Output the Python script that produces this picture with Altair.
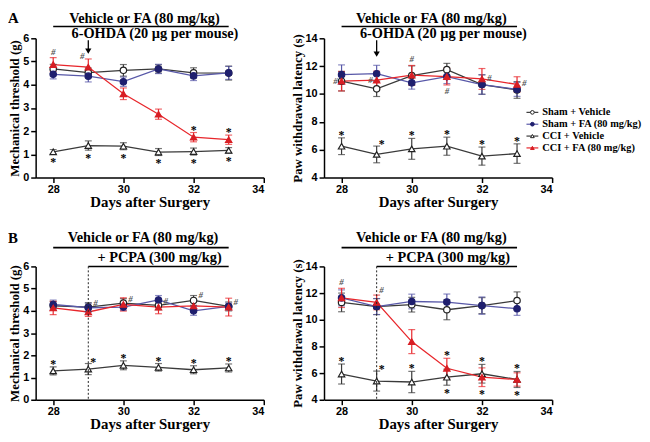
import altair as alt
import pandas as pd

days = [28, 29, 30, 31, 32, 33]
series = ["Sham + Vehicle", "Sham + FA (80 mg/kg)", "CCI + Vehicle", "CCI + FA (80 mg/kg)"]

# Panel A (6-OHDA), mechanical threshold (g)
a_mech_sv = [4.68, 4.52, 4.62, 4.68, 4.51, 4.50]
a_mech_sv_err = [0.2, 0.2, 0.25, 0.18, 0.22, 0.3]
a_mech_sf = [4.45, 4.37, 4.13, 4.68, 4.38, 4.51]
a_mech_sf_err = [0.2, 0.25, 0.2, 0.2, 0.2, 0.28]
a_mech_cv = [1.11, 1.38, 1.35, 1.10, 1.12, 1.17]
a_mech_cv_err = [0.1, 0.2, 0.15, 0.15, 0.15, 0.12]
a_mech_cf = [4.87, 4.76, 3.61, 2.73, 1.74, 1.63]
a_mech_cf_err = [0.3, 0.35, 0.25, 0.22, 0.2, 0.2]

# Panel A (6-OHDA), paw withdrawal latency (s)
a_paw_sv = [10.92, 10.37, 11.32, 11.75, 10.68, 10.29]
a_paw_sv_err = [0.7, 0.55, 0.7, 0.45, 0.7, 0.6]
a_paw_sf = [11.39, 11.46, 10.80, 11.25, 10.68, 10.33]
a_paw_sf_err = [0.7, 0.6, 0.45, 0.5, 0.7, 0.5]
a_paw_cv = [6.25, 5.66, 6.06, 6.25, 5.54, 5.72]
a_paw_cv_err = [0.6, 0.6, 0.75, 0.65, 0.65, 0.7]
a_paw_cf = [10.92, 10.99, 11.35, 11.25, 11.08, 10.69]
a_paw_cf_err = [0.7, 0.65, 0.7, 0.6, 0.75, 0.55]

# Panel B (PCPA), mechanical threshold (g)
b_mech_sv = [4.23, 4.17, 4.35, 4.25, 4.47, 4.20]
b_mech_sv_err = [0.2, 0.2, 0.2, 0.2, 0.22, 0.2]
b_mech_sf = [4.29, 4.14, 4.17, 4.49, 4.00, 4.20]
b_mech_sf_err = [0.2, 0.2, 0.15, 0.2, 0.2, 0.15]
b_mech_cv = [1.30, 1.38, 1.55, 1.46, 1.35, 1.43]
b_mech_cv_err = [0.18, 0.25, 0.2, 0.17, 0.18, 0.18]
b_mech_cf = [4.13, 3.95, 4.29, 4.17, 4.22, 4.17]
b_mech_cf_err = [0.3, 0.2, 0.3, 0.3, 0.25, 0.4]

# Panel B (PCPA), paw withdrawal latency (s)
b_paw_sv = [11.30, 10.99, 11.13, 10.75, 11.06, 11.44]
b_paw_sv_err = [0.7, 0.6, 0.55, 0.75, 0.6, 0.65]
b_paw_sf = [11.64, 10.99, 11.37, 11.33, 11.06, 10.83]
b_paw_sf_err = [0.6, 0.6, 0.55, 0.6, 0.65, 0.5]
b_paw_cv = [5.93, 5.40, 5.33, 5.69, 5.95, 5.52]
b_paw_cv_err = [0.75, 0.75, 0.8, 0.6, 0.7, 0.6]
b_paw_cf = [11.64, 11.30, 8.36, 6.36, 5.69, 5.52]
b_paw_cf_err = [0.72, 0.55, 0.9, 0.75, 0.7, 0.5]

# significance marks: (series index, day, placement, symbol)
a_mech_marks = [(2, d, "below", "*") for d in days] + [
    (3, 32, "above", "*"), (3, 33, "above", "*"),
    (3, 28, "above", "#"), (3, 29, "above_left", "#")]
a_paw_marks = [(2, d, "above", "*") for d in [28, 30, 31, 32, 33]] + [
    (2, 29, "above_right", "*"),
    (3, 28, "left", "#"), (3, 29, "left", "#"), (3, 30, "above", "#"),
    (3, 31, "below", "#"), (3, 32, "right", "#"), (3, 33, "right", "#")]
b_mech_marks = [(2, d, "above", "*") for d in [28, 30, 31, 32, 33]] + [
    (2, 29, "above_right", "*")] + [(0, d, "right_hi", "#") for d in [29, 30, 31, 32, 33]]
b_paw_marks = [(2, 28, "above", "*"), (2, 29, "above_right", "*"), (2, 30, "above", "*"),
               (3, 31, "above", "*"), (2, 31, "below", "*"),
               (2, 32, "above", "*"), (3, 32, "below", "*"),
               (2, 33, "above", "*"), (2, 33, "below", "*"),
               (3, 28, "above", "#"), (3, 29, "above_right", "#")]

line_colors = ["#3a3a3a", "#5858a8", "#3a3a3a", "#e8262b"]
err_colors = ["#2a2a2a", "#3c3c9c", "#2a2a2a", "#e8262b"]
stroke_colors = ["#222222", "#1f1f6e", "#222222", "#d81e24"]
fill_colors = ["#ffffff", "#1f1f6e", "#ffffff", "#d81e24"]
shapes = ["circle", "circle", "triangle-up", "triangle-up"]

SERIF = "Liberation Serif"
SANS = "Liberation Sans"


def panel_df(vals, errs):
    rows = []
    for s, v, e in zip(series, vals, errs):
        for d, vv, ee in zip(days, v, e):
            rows.append(dict(series=s, day=d, value=vv, lo=vv - ee, hi=vv + ee))
    return pd.DataFrame(rows)


PLACE = {
    "*": {
        "above": dict(field="hi", dx=0, dy=1, align="center"),
        "below": dict(field="lo", dx=0, dy=12, align="center"),
        "above_right": dict(field="hi", dx=5, dy=2, align="center"),
    },
    "#": {
        "above": dict(field="hi", dx=0, dy=-3, align="center"),
        "below": dict(field="lo", dx=0, dy=9, align="center"),
        "above_left": dict(field="hi", dx=-4, dy=0, align="right"),
        "above_right": dict(field="hi", dx=5, dy=-2, align="center"),
        "left": dict(field="value", dx=-4, dy=3, align="right"),
        "right": dict(field="value", dx=5, dy=2, align="left"),
        "right_hi": dict(field="hi", dx=5, dy=3, align="left"),
    },
}

XS = alt.Scale(domain=[27.5, 34], nice=False, zero=False)
XAXIS = alt.Axis(values=[28, 30, 32, 34], title="Days after Surgery", format="d")
HFS = 14.5


def make_panel(df, marks, ydom, yvals, ytitle, height, headers, hlines,
               arrow=None, dashed_day=None, label=None, legend=False):
    ys = alt.Scale(domain=ydom, nice=False, zero=False)
    yaxis = alt.Axis(values=yvals, title=ytitle, format="d")

    def X(f="day:Q"):
        return alt.X(f, scale=XS, axis=XAXIS, title="Days after Surgery")

    def Y(f):
        return alt.Y(f, scale=ys, axis=yaxis, title=ytitle)

    base = alt.Chart(df)
    lines = base.mark_line(strokeWidth=1.3).encode(
        x=X(), y=Y("value:Q"),
        color=alt.Color("series:N", scale=alt.Scale(domain=series, range=line_colors), legend=None),
    )
    errs = base.mark_errorbar(ticks={"size": 7}, thickness=1.2).encode(
        x=X(), y=Y("lo:Q"), y2="hi:Q",
        color=alt.Color("series:N", scale=alt.Scale(domain=series, range=err_colors), legend=None),
    )
    pts = base.mark_point(size=42, filled=True, strokeWidth=1.2, opacity=1).encode(
        x=X(), y=Y("value:Q"),
        shape=alt.Shape("series:N", scale=alt.Scale(domain=series, range=shapes), legend=None),
        fill=alt.Fill("series:N", scale=alt.Scale(domain=series, range=fill_colors), legend=None),
        stroke=alt.Stroke("series:N", scale=alt.Scale(domain=series, range=stroke_colors), legend=None),
    )
    layers = [lines, errs, pts]

    # significance marks
    for sym, places in PLACE.items():
        for pname, p in places.items():
            rows = []
            for si, d, pl, s in marks:
                if s == sym and pl == pname:
                    r = df[(df.series == series[si]) & (df.day == d)].iloc[0]
                    rows.append(dict(day=d, yy=r[p["field"]], t=sym))
            if not rows:
                continue
            fs = 12 if sym == "*" else 9
            layers.append(
                alt.Chart(pd.DataFrame(rows)).mark_text(
                    font=SERIF, fontWeight="bold", fontSize=fs,
                    color="#000000" if sym == "*" else "#555555",
                    fontStyle="normal" if sym == "*" else "italic",
                    align=p["align"], baseline="alphabetic", dx=p["dx"], dy=p["dy"],
                ).encode(x=X(), y=Y("yy:Q"), text="t:N")
            )

    # header texts and bars
    for dc, txt, ypix, bl in headers:
        layers.append(
            alt.Chart(pd.DataFrame({"day": [dc], "t": [txt]})).mark_text(
                font=SERIF, fontWeight="bold", fontSize=HFS, baseline=bl, color="black"
            ).encode(x=X(), y=alt.value(ypix), text="t:N")
        )
    for d1, d2, ypix in hlines:
        layers.append(
            alt.Chart(pd.DataFrame({"day": [d1], "day_end": [d2]})).mark_rule(
                color="black", strokeWidth=1.6
            ).encode(x=X(), x2="day_end:Q", y=alt.value(ypix))
        )
    if arrow is not None:
        ad, y1, y2 = arrow
        adf = pd.DataFrame({"day": [ad]})
        layers.append(
            alt.Chart(adf).mark_rule(color="black", strokeWidth=1.3).encode(
                x=X(), y=alt.value(y1), y2=alt.value(y2 - 3))
        )
        layers.append(
            alt.Chart(adf).mark_point(shape="triangle-down", filled=True, color="black",
                                      size=40, opacity=1).encode(
                x=X(), y=alt.value(y2 - 4))
        )
    if dashed_day is not None:
        layers.append(
            alt.Chart(pd.DataFrame({"day": [dashed_day]})).mark_rule(
                color="#222222", strokeWidth=1, strokeDash=[2, 2]
            ).encode(x=X(), y=alt.value(0), y2=alt.value(height))
        )
    if label is not None:
        txt, ypix, bl = label
        layers.append(
            alt.Chart(pd.DataFrame({"t": [txt]})).mark_text(
                font=SERIF, fontWeight="bold", fontSize=15, align="left",
                baseline=bl, color="black"
            ).encode(x=alt.value(-28), y=alt.value(ypix), text="t:N")
        )
    if legend:
        for i, s in enumerate(series):
            ly = 75 + 12 * i
            ldf = pd.DataFrame({"t": [s]})
            layers.append(
                alt.Chart(ldf).mark_rule(color=line_colors[i], strokeWidth=1.2).encode(
                    x=alt.value(205), x2=alt.value(217), y=alt.value(ly))
            )
            layers.append(
                alt.Chart(ldf).mark_point(shape=shapes[i], filled=True, fill=fill_colors[i],
                                          stroke=stroke_colors[i], strokeWidth=1, size=14,
                                          opacity=1).encode(
                    x=alt.value(211), y=alt.value(ly))
            )
            layers.append(
                alt.Chart(ldf).mark_text(font=SERIF, fontWeight="bold", fontSize=10.5,
                                         align="left", baseline="middle", color="black").encode(
                    x=alt.value(221), y=alt.value(ly), text="t:N")
            )
    return alt.layer(*layers).properties(width=231, height=height)


TOP_H = 141
BOT_H = 135

pA1 = make_panel(
    panel_df([a_mech_sv, a_mech_sf, a_mech_cv, a_mech_cf],
             [a_mech_sv_err, a_mech_sf_err, a_mech_cv_err, a_mech_cf_err]),
    a_mech_marks, [0, 6], [0, 1, 2, 3, 4, 5, 6], "Mechanical threshold (g)", TOP_H,
    headers=[(30.6, "Vehicle or FA (80 mg/kg)", -27, "top"),
             (30.9, "6-OHDA (20 µg per mouse)", 0, "alphabetic")],
    hlines=[(28, 33, -12)], arrow=(29, 2, 17), label=("A", -27, "top"),
)
pA2 = make_panel(
    panel_df([a_paw_sv, a_paw_sf, a_paw_cv, a_paw_cf],
             [a_paw_sv_err, a_paw_sf_err, a_paw_cv_err, a_paw_cf_err]),
    a_paw_marks, [4, 14], [4, 6, 8, 10, 12, 14], "Paw withdrawal latency (s)", TOP_H,
    headers=[(30.56, "Vehicle or FA (80 mg/kg)", -27, "top"),
             (30.9, "6-OHDA (20 µg per mouse)", 0, "alphabetic")],
    hlines=[(28, 33, -12)], arrow=(29, 2, 20), legend=True,
)
pB1 = make_panel(
    panel_df([b_mech_sv, b_mech_sf, b_mech_cv, b_mech_cf],
             [b_mech_sv_err, b_mech_sf_err, b_mech_cv_err, b_mech_cf_err]),
    b_mech_marks, [0, 6], [0, 1, 2, 3, 4, 5, 6], "Mechanical threshold (g)", BOT_H,
    headers=[(30.56, "Vehicle or FA (80 mg/kg)", -25, "alphabetic"),
             (31.03, "+ PCPA (300 mg/kg)", -4, "alphabetic")],
    hlines=[(28, 33, -19), (29, 33, 0)], dashed_day=29, label=("B", -24, "alphabetic"),
)
pB2 = make_panel(
    panel_df([b_paw_sv, b_paw_sf, b_paw_cv, b_paw_cf],
             [b_paw_sv_err, b_paw_sf_err, b_paw_cv_err, b_paw_cf_err]),
    b_paw_marks, [4, 14], [4, 6, 8, 10, 12, 14], "Paw withdrawal latency (s)", BOT_H,
    headers=[(30.56, "Vehicle or FA (80 mg/kg)", -25, "alphabetic"),
             (31.03, "+ PCPA (300 mg/kg)", -4, "alphabetic")],
    hlines=[(28, 33, -19), (29, 33, 0)], dashed_day=29,
)

chart = alt.concat(
    pA1, pA2, pB1, pB2, columns=2, spacing={"row": 90, "column": 61}, bounds="flush"
).properties(padding=0).configure_view(stroke=None).configure_axis(
    grid=False, domainColor="black", domainWidth=1.5, tickColor="black", tickWidth=1.5,
    tickSize=5, labelColor="black", labelFont=SANS, labelFontWeight="bold", labelFontSize=11,
    titleColor="black", titleFont=SERIF, titleFontWeight="bold",
).configure_axisX(titleFontSize=15, titlePadding=0, labelPadding=1).configure_axisY(
    titleFontSize=13, titlePadding=1, labelPadding=2
)

chart.save("out.html", embed_options={"renderer": "svg", "actions": False})
